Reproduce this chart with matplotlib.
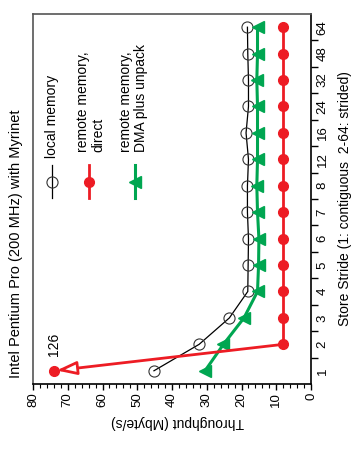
import matplotlib
matplotlib.use('Agg')
import matplotlib.pyplot as plt
from matplotlib.lines import Line2D

plt.rcParams['font.family'] = ['Liberation Sans', 'DejaVu Sans']

# Store strides (categorical axis, drawn vertically)
strides = ['1', '2', '3', '4', '5', '6', '7', '8', '12', '16', '24', '32', '48', '64']
# Throughput in Mbyte/s
local_memory = [45.2, 32.2, 23.5, 18.2, 18.1, 18.0, 18.3, 18.3, 18.0, 18.7, 18.0, 18.0, 18.2, 18.3]
remote_direct = [126, 8, 8, 8, 8, 8, 8, 8, 8, 8, 8, 8, 8, 8]
remote_dma = [30.5, 25.2, 19.3, 15.4, 15.1, 15.0, 15.4, 15.6, 15.4, 15.4, 15.4, 15.6, 15.4, 15.4]
throughput_ticks = [80, 70, 60, 50, 40, 30, 20, 10, 0]
off_scale_at = 74  # where the off-scale value (126) is drawn

RED = '#ed1c24'
GREEN = '#00a651'

pos = list(range(len(strides)))

fig = plt.figure(figsize=(3.56, 4.5), dpi=100)
ax = fig.add_axes([0.0927, 0.1467, 0.781, 0.8222])

# local memory
ax.plot(local_memory, pos, color='black', lw=0.9, marker='o', ms=8,
        mfc='none', mec='#333333', mew=0.8, zorder=3)
# remote memory, DMA plus unpack
ax.plot(remote_dma, pos, color=GREEN, lw=2.2, marker='<', ms=8,
        mfc=GREEN, mec=GREEN, zorder=4)
# remote memory, direct (first value off scale)
ax.plot(remote_direct[1:], pos[1:], color=RED, lw=2, marker='o', ms=7,
        mfc=RED, mec=RED, zorder=5)
ax.plot([off_scale_at], [pos[0]], color=RED, marker='o', ms=7, zorder=5)
ax.annotate('', xy=(off_scale_at, pos[0]), xytext=(remote_direct[1], pos[1]),
            arrowprops=dict(arrowstyle='-|>,head_length=1.2,head_width=0.4',
                            fc='white', ec=RED, lw=2, shrinkA=0, shrinkB=2),
            zorder=6)
ax.text(off_scale_at, pos[1], str(remote_direct[0]), rotation=90,
        ha='center', va='center', fontsize=10)

ax.set_xlim(80, 0)
ax.set_ylim(-0.5, len(strides) - 0.5)

# throughput axis (bottom)
ax.set_xticks(throughput_ticks)
ax.set_xticklabels([str(t) for t in throughput_ticks], rotation=90)
ax.set_xticks(range(0, 81, 2), minor=True)
ax.tick_params(axis='x', which='major', length=4, width=1, pad=2, labelsize=9.5)
ax.tick_params(axis='x', which='minor', length=3, width=0.8)

# stride axis (right)
ax.yaxis.tick_right()
ax.set_yticks([p + 0.5 for p in pos[:-1]])
ax.set_yticklabels([])
ax.set_yticks(pos, minor=True)
ax.set_yticklabels(strides, minor=True, rotation=90, va='center')
ax.tick_params(axis='y', which='major', length=5, width=1, right=True, left=False)
ax.tick_params(axis='y', which='minor', length=0, pad=4, labelsize=9.5,
               right=True, left=False)

for s in ['top', 'left']:
    ax.spines[s].set_color('#555555')
    ax.spines[s].set_linewidth(1.2)
for s in ['bottom', 'right']:
    ax.spines[s].set_color('black')
    ax.spines[s].set_linewidth(1.2)

fig.text(0.50, 0.062, 'Throughput (Mbyte/s)', rotation=180, ha='center',
         va='center', fontsize=10)
fig.text(0.969, 0.5578, 'Store Stride (1: contiguous  2-64: strided)',
         rotation=90, ha='center', va='center', fontsize=10)
fig.text(0.045, 0.16, 'Intel Pentium Pro (200 MHz) with Myrinet',
         rotation=90, ha='center', va='bottom', fontsize=10.5)

# legend drawn rotated
legend_items = [
    ('local memory', dict(color='black', lw=0.9, marker='o', ms=8, mfc='none',
                          mec='#333333', mew=0.8), 0.068, 0.611, 0.068),
    ('remote memory,\ndirect', dict(color=RED, lw=2, marker='o', ms=7,
                                    mfc=RED, mec=RED), 0.201, 0.627, 0.207),
    ('remote memory,\nDMA plus unpack', dict(color=GREEN, lw=2.2, marker='<', ms=8,
                                             mfc=GREEN, mec=GREEN), 0.367, 0.627, 0.362),
]
for label, style, hx, ty, tx in legend_items:
    ax.add_line(Line2D([hx, hx, hx], [0.503, 0.546, 0.592], transform=ax.transAxes,
                       markevery=[1], clip_on=False, **style))
    ax.text(tx, ty, label, transform=ax.transAxes, rotation=90, ha='center',
            va='bottom', ma='left', fontsize=10, linespacing=1.1)

fig.savefig('out.png', dpi=100)
